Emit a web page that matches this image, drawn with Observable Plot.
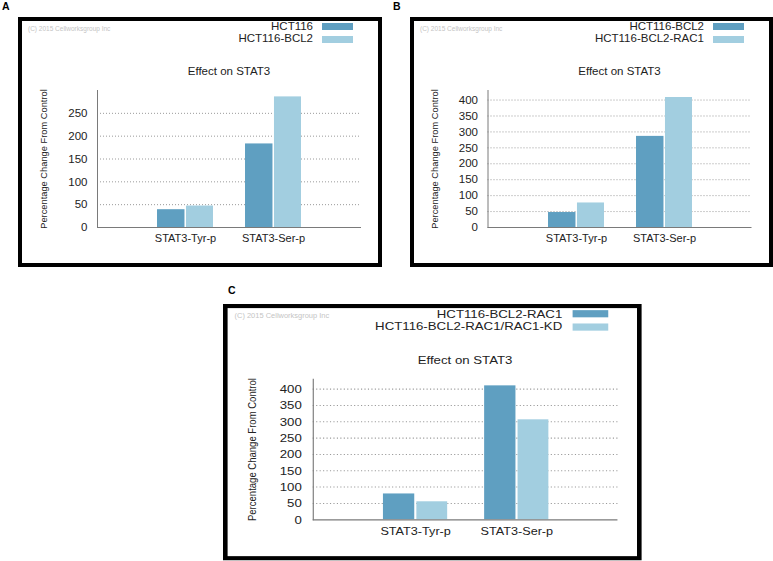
<!DOCTYPE html>
<html><head><meta charset="utf-8">
<script src="https://cdn.jsdelivr.net/npm/d3@7"></script>
<script src="https://cdn.jsdelivr.net/npm/@observablehq/plot@0.6"></script>
<style>
html,body{margin:0;padding:0;background:#fff;}
#root{position:relative;width:773px;height:561px;overflow:hidden;font-family:"Liberation Sans",Arial,sans-serif;color:#222;}
.panel{position:absolute;transform-origin:0 0;}
.panel svg{position:absolute;left:0;top:0;background:transparent;}
.border{position:absolute;left:0;top:0;right:0;bottom:0;border:4px solid #000;box-sizing:border-box;}
.t{position:absolute;white-space:nowrap;line-height:1;}
.plabel{position:absolute;font-weight:bold;font-size:10.5px;line-height:1;color:#000;}
</style></head><body><div id="root"></div>
<script>
// ---- data ----
const categories = ["STAT3-Tyr-p", "STAT3-Ser-p"];
const chartTitle = "Effect on STAT3";
const yLabel = "Percentage Change From Control";
const watermark = "(C) 2015 Cellworksgroup Inc";
const panelLetters = ["A", "B", "C"];
const barColors = ["#5f9fc1", "#a2cee0"];

const seriesA = ["HCT116", "HCT116-BCL2"];
const valuesA1 = [39, 183];
const valuesA2 = [47, 286];
const ticksA = [0, 50, 100, 150, 200, 250];
const yMaxA = 300;

const seriesB = ["HCT116-BCL2", "HCT116-BCL2-RAC1"];
const valuesB1 = [47, 286];
const valuesB2 = [77, 408];
const ticksB = [0, 50, 100, 150, 200, 250, 300, 350, 400];
const yMaxB = 430;

const seriesC = ["HCT116-BCL2-RAC1", "HCT116-BCL2-RAC1/RAC1-KD"];
const valuesC1 = [79, 410];
const valuesC2 = [55, 306];
const ticksC = [0, 50, 100, 150, 200, 250, 300, 350, 400];
const yMaxC = 430;

// ---- drawing ----
const root = document.getElementById("root");

function addText(parent, txt, css) {
  const d = document.createElement("div");
  d.className = "t";
  d.textContent = txt;
  Object.assign(d.style, css);
  parent.appendChild(d);
  return d;
}

function chart(series, v1, v2, ticks, yMax, marginLeft, plotWidth, W, H) {
  const rows1 = categories.map((c, i) => ({cat: c, series: series[0], value: v1[i]}));
  const rows2 = categories.map((c, i) => ({cat: c, series: series[1], value: v2[i]}));
  const bw = plotWidth / 3; // band width with outer padding 0.5
  return Plot.plot({
    width: W, height: H,
    marginLeft, marginRight: W - marginLeft - plotWidth, marginTop: 73, marginBottom: 40,
    style: {fontFamily: '"Liberation Sans", Arial, sans-serif', fontSize: "11px", color: "#222", background: "transparent"},
    x: {domain: categories, paddingInner: 0, paddingOuter: 0.5, label: null},
    y: {domain: [0, yMax], label: null},
    color: {domain: series, range: barColors},
    marks: [
      Plot.ruleY(ticks.filter(t => t > 0), {stroke: "#9a9a9a", strokeDasharray: "1,2"}),
      Plot.barY(rows1, {x: "cat", y: "value", fill: "series", insetLeft: 0.182 * bw, insetRight: 0.506 * bw}),
      Plot.barY(rows2, {x: "cat", y: "value", fill: "series", insetLeft: 0.511 * bw, insetRight: 0.182 * bw}),
      Plot.ruleY([0], {stroke: "#7a7a7a", strokeWidth: 1.2}),
      Plot.frame({anchor: "left", stroke: "#7a7a7a"}),
      Plot.axisY({ticks, tickSize: 0, tickPadding: 10, fontSize: 11.5, label: null}),
      Plot.axisX({anchor: "bottom", tickSize: 0, tickPadding: 7, fontSize: 11, label: null})
    ]
  });
}

function panel(p) {
  const div = document.createElement("div");
  div.className = "panel";
  Object.assign(div.style, {left: p.left + "px", top: p.top + "px", width: p.width + "px", height: p.height + "px"});
  if (p.sx !== 1 || p.sy !== 1) div.style.transform = `scale(${p.sx}, ${p.sy})`;
  root.appendChild(div);
  div.appendChild(chart(p.series, p.v1, p.v2, p.ticks, p.yMax, p.marginLeft, p.plotWidth, p.width, p.height));
  addText(div, watermark, {left: "10px", top: "12px", transform: "translateY(-50%)", fontSize: "6.5px", color: "#c4c4c4"});
  p.series.forEach((s, i) => {
    const cy = 9.6 + i * 12.3;
    addText(div, s, {right: "69px", top: cy + "px", transform: "translateY(-50%)", fontSize: "11.5px", color: "#222"});
    const sw = document.createElement("div");
    Object.assign(sw.style, {position: "absolute", left: (p.width - 60) + "px", top: (cy - 3.3) + "px", width: "31px", height: "7px", background: barColors[i]});
    div.appendChild(sw);
  });
  addText(div, chartTitle, {left: (p.marginLeft + p.plotWidth / 2) + "px", top: "54.7px", transform: "translate(-50%,-50%)", fontSize: "11.5px", color: "#222"});
  addText(div, yLabel, {left: (p.marginLeft - 52) + "px", top: "142px", transform: "translate(-50%,-50%) rotate(-90deg)", fontSize: "9.3px", color: "#222"});
  const b = document.createElement("div");
  b.className = "border";
  div.appendChild(b);
}

panel({left: 18, top: 17, width: 364, height: 250, marginLeft: 79, plotWidth: 264, sx: 1, sy: 1,
  series: seriesA, v1: valuesA1, v2: valuesA2, ticks: ticksA, yMax: yMaxA});
panel({left: 410, top: 17, width: 363, height: 250, marginLeft: 77.5, plotWidth: 264, sx: 1, sy: 1,
  series: seriesB, v1: valuesB1, v2: valuesB2, ticks: ticksB, yMax: yMaxB});
panel({left: 223, top: 304, width: 364, height: 250, marginLeft: 78, plotWidth: 265, sx: 1.15, sy: 1.025,
  series: seriesC, v1: valuesC1, v2: valuesC2, ticks: ticksC, yMax: yMaxC});

[[2, 1.3], [393, 1.3], [228, 285]].forEach(([x, y], i) => {
  const d = document.createElement("div");
  d.className = "plabel";
  d.textContent = panelLetters[i];
  Object.assign(d.style, {left: x + "px", top: y + "px"});
  root.appendChild(d);
});
</script></body></html>
